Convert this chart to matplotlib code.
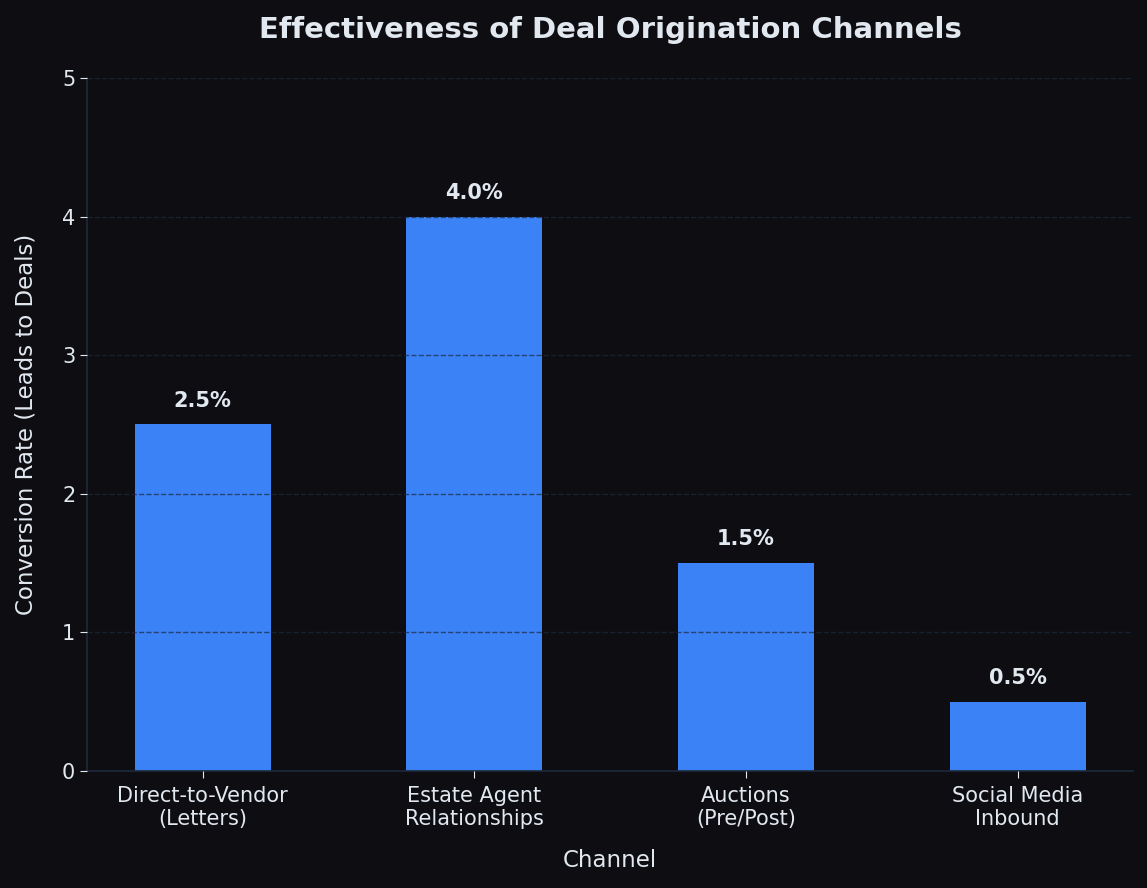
import matplotlib.pyplot as plt

channels = ['Direct-to-Vendor\n(Letters)', 'Estate Agent\nRelationships',
            'Auctions\n(Pre/Post)', 'Social Media\nInbound']
rates = [2.5, 4.0, 1.5, 0.5]

bg = '#0e0e12'
txt = '#e2e8f0'
edge = '#1e293b'

fig, ax = plt.subplots(figsize=(11.47, 8.88), dpi=100)
fig.patch.set_facecolor(bg)
ax.set_facecolor(bg)

x = range(len(channels))
bars = ax.bar(x, rates, width=0.5, color='#3b82f6', zorder=1)

for b, v in zip(bars, rates):
    ax.text(b.get_x() + b.get_width() / 2, v + 0.1, f'{v:.1f}%',
            ha='center', va='bottom', color=txt, fontsize=15,
            fontweight='bold')

ax.set_xticks(list(x))
ax.set_xticklabels(channels)
ax.set_ylim(0, 5)
ax.grid(axis='y', linestyle='--', color=edge, linewidth=1, alpha=0.7,
        zorder=2)
ax.set_axisbelow(False)

ax.spines['top'].set_visible(False)
ax.spines['right'].set_visible(False)
for s in ('left', 'bottom'):
    ax.spines[s].set_color(edge)
    ax.spines[s].set_linewidth(1.2)
ax.tick_params(colors=txt, labelsize=15, length=5)
ax.tick_params(axis='x', pad=6)

ax.set_title('Effectiveness of Deal Origination Channels', color=txt,
             fontsize=21, fontweight='bold', pad=29)
ax.set_xlabel('Channel', color=txt, fontsize=16.5, labelpad=14)
ax.set_ylabel('Conversion Rate (Leads to Deals)', color=txt, fontsize=16.5,
              labelpad=18)

plt.subplots_adjust(left=0.076, right=0.988, top=0.912, bottom=0.132)
plt.savefig('out.png', facecolor=bg)
